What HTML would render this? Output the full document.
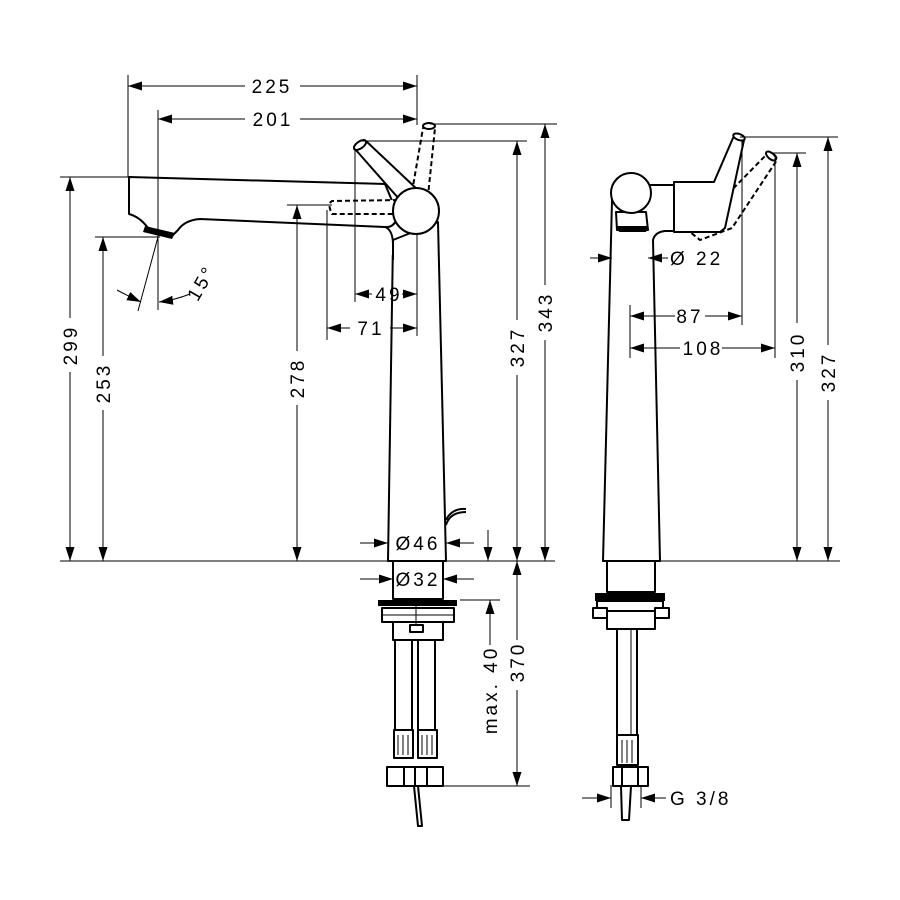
<!DOCTYPE html>
<html><head><meta charset="utf-8"><style>
html,body{margin:0;padding:0;background:#fff}
svg{display:block}
text{font-family:"Liberation Sans",sans-serif;font-size:19px;fill:#000;letter-spacing:3px}
.d{stroke:#000;stroke-width:1;fill:none}
.o{stroke:#000;stroke-width:2;fill:#fff;stroke-linejoin:round}
.n{stroke:#000;stroke-width:2;fill:none}
.da{stroke:#000;stroke-width:2;fill:#fff;stroke-dasharray:5 3}
</style></head><body>
<svg width="900" height="900" viewBox="0 0 900 900" xmlns="http://www.w3.org/2000/svg">
<defs>
<marker id="a" viewBox="0 0 14 9" refX="14" refY="4.5" markerWidth="14" markerHeight="9" markerUnits="userSpaceOnUse" orient="auto-start-reverse"><path d="M0,0L14,4.5L0,9z" fill="#000"/></marker>
</defs>
<rect width="900" height="900" fill="#fff"/>

<!-- ===== LEFT VIEW ===== -->
<line class="d" x1="60" y1="561" x2="555" y2="561"/>
<path class="o" d="M393,240 L388,561 L446,561 L438,222 Z"/>
<path class="o" d="M129,177 L385,184 L398,215 Q395,228 385,227 L200,219 Q185,220 178,230 L172,236 L148,228 Q140,217 129,214 Z"/>
<path class="o" d="M385,227 Q393,230 393,245 L393,260" />
<path d="M145,226 L175,233 L172,239 L143,232 Z" fill="#000"/>
<path class="da" d="M398,200 L332,201 Q327,204 332,214 L398,214"/>
<path class="da" d="M412,192 L423,128 Q428,122 435,128 L428,196"/>
<ellipse cx="429" cy="126" rx="6" ry="3" class="o"/>
<path class="o" d="M400,200 L355,149 Q356,140 366,141 L420,192 Z"/>
<ellipse cx="360" cy="145" rx="7" ry="3.5" transform="rotate(-35 360 145)" class="o"/>
<circle cx="416" cy="211" r="23" class="o"/>
<path class="n" d="M446,525 Q450,512 466,512" />
<path class="n" d="M446,520 Q452,508 466,509" />

<rect x="393" y="561" width="50" height="38" class="o"/>
<rect x="378" y="600" width="79" height="6" fill="#000"/>
<rect x="382" y="608" width="72" height="14" class="o"/>
<line class="d" x1="382" y1="615" x2="454" y2="615"/>
<rect x="393" y="622" width="50" height="18" class="o"/>
<rect x="410" y="625" width="13" height="7" class="o"/>
<line class="d" x1="416" y1="606" x2="416" y2="625"/>
<rect x="395" y="640" width="17" height="92" class="o"/>
<rect x="418" y="640" width="17" height="92" class="o"/>
<rect x="394" y="730" width="19" height="28" class="o"/>
<rect x="418" y="730" width="19" height="28" class="o"/>
<g class="d"><line x1="398" y1="735" x2="398" y2="755"/><line x1="403" y1="735" x2="403" y2="755"/><line x1="408" y1="735" x2="408" y2="755"/><line x1="422" y1="735" x2="422" y2="755"/><line x1="427" y1="735" x2="427" y2="755"/><line x1="432" y1="735" x2="432" y2="755"/></g>
<rect x="387" y="767" width="56" height="19" class="o"/>
<line class="n" x1="404" y1="767" x2="404" y2="786"/><line class="n" x1="415" y1="767" x2="415" y2="786"/><line class="n" x1="427" y1="767" x2="427" y2="786"/>
<path class="o" d="M414,786 L418,786 L422,826 L418,826 Z"/>

<line class="d" x1="128" y1="75" x2="128" y2="177"/>
<line class="d" x1="417" y1="75" x2="417" y2="125"/>
<line class="d" x1="128" y1="86" x2="245" y2="86" marker-start="url(#a)"/>
<line class="d" x1="300" y1="86" x2="417" y2="86" marker-end="url(#a)"/>
<text x="272" y="93" text-anchor="middle">225</text>
<line class="d" x1="158" y1="110" x2="158" y2="310"/>
<line class="d" x1="158" y1="119" x2="245" y2="119" marker-start="url(#a)"/>
<line class="d" x1="300" y1="119" x2="417" y2="119" marker-end="url(#a)"/>
<text x="273" y="126" text-anchor="middle">201</text>
<line class="d" x1="158" y1="237" x2="138" y2="311"/>
<path class="d" d="M117,290 Q128,296 141,302" marker-end="url(#a)"/>
<path class="d" d="M190,294 Q175,300 159,302" marker-end="url(#a)"/>
<text x="207" y="286" transform="rotate(-60 207 286)" text-anchor="middle">15°</text>
<line class="d" x1="60" y1="177" x2="128" y2="177"/>
<line class="d" x1="70" y1="177" x2="70" y2="318" marker-start="url(#a)"/>
<line class="d" x1="70" y1="372" x2="70" y2="561" marker-end="url(#a)"/>
<text transform="translate(77,345) rotate(-90)" text-anchor="middle">299</text>
<line class="d" x1="95" y1="237" x2="160" y2="237"/>
<line class="d" x1="103" y1="237" x2="103" y2="356" marker-start="url(#a)"/>
<line class="d" x1="103" y1="410" x2="103" y2="561" marker-end="url(#a)"/>
<text transform="translate(110,383) rotate(-90)" text-anchor="middle">253</text>
<line class="d" x1="287" y1="205" x2="332" y2="205"/>
<line class="d" x1="297" y1="205" x2="297" y2="351" marker-start="url(#a)"/>
<line class="d" x1="297" y1="405" x2="297" y2="561" marker-end="url(#a)"/>
<text transform="translate(304,378) rotate(-90)" text-anchor="middle">278</text>
<line class="d" x1="355" y1="148" x2="355" y2="302"/>
<line class="d" x1="327" y1="210" x2="327" y2="340"/>
<line class="d" x1="417" y1="234" x2="417" y2="336"/>
<line class="d" x1="355" y1="294" x2="372" y2="294" marker-start="url(#a)"/>
<line class="d" x1="402" y1="294" x2="417" y2="294" marker-end="url(#a)"/>
<text x="389" y="301" text-anchor="middle">49</text>
<line class="d" x1="327" y1="328" x2="350" y2="328" marker-start="url(#a)"/>
<line class="d" x1="390" y1="328" x2="417" y2="328" marker-end="url(#a)"/>
<text x="371" y="335" text-anchor="middle">71</text>
<line class="d" x1="360" y1="141" x2="527" y2="141"/>
<line class="d" x1="430" y1="124" x2="557" y2="124"/>
<line class="d" x1="517" y1="141" x2="517" y2="320" marker-start="url(#a)"/>
<line class="d" x1="517" y1="375" x2="517" y2="561" marker-end="url(#a)"/>
<text transform="translate(524,347) rotate(-90)" text-anchor="middle">327</text>
<line class="d" x1="545" y1="124" x2="545" y2="285" marker-start="url(#a)"/>
<line class="d" x1="545" y1="340" x2="545" y2="561" marker-end="url(#a)"/>
<text transform="translate(552,312) rotate(-90)" text-anchor="middle">343</text>
<line class="d" x1="360" y1="543" x2="388" y2="543" marker-end="url(#a)"/>
<line class="d" x1="474" y1="543" x2="446" y2="543" marker-end="url(#a)"/>
<text x="418" y="550" text-anchor="middle">Ø46</text>
<line class="d" x1="488" y1="530" x2="488" y2="561" marker-end="url(#a)"/>
<line class="d" x1="360" y1="579" x2="393" y2="579" marker-end="url(#a)"/>
<line class="d" x1="474" y1="579" x2="443" y2="579" marker-end="url(#a)"/>
<text x="418" y="586" text-anchor="middle">Ø32</text>
<line class="d" x1="460" y1="600" x2="500" y2="600"/>
<line class="d" x1="490" y1="645" x2="490" y2="600" marker-end="url(#a)"/>
<text transform="translate(497,690) rotate(-90)" text-anchor="middle">max. 40</text>
<line class="d" x1="440" y1="786" x2="530" y2="786"/>
<line class="d" x1="517" y1="640" x2="517" y2="561" marker-end="url(#a)"/>
<line class="d" x1="517" y1="690" x2="517" y2="786" marker-end="url(#a)"/>
<text transform="translate(524,662) rotate(-90)" text-anchor="middle">370</text>

<!-- ===== RIGHT VIEW ===== -->
<line class="d" x1="660" y1="561" x2="840" y2="561"/>
<path class="o" d="M612,200 L603,561 L660,561 L653,240 Q655,232 665,231 L676,231 L676,185 L650,185 Z"/>
<path class="da" d="M722,200 L768,153 Q776,153 777,160 L732,228 L700,240 L690,232"/>
<ellipse cx="771" cy="156" rx="6" ry="3" transform="rotate(40 771 156)" class="o"/>
<path class="o" d="M674,182 L714,182 L733,138 Q740,134 744,140 L725,228 L720,232 L674,232 Z"/>
<ellipse cx="739" cy="137" rx="6" ry="3" transform="rotate(20 739 137)" class="o"/>
<line class="n" x1="674" y1="182" x2="674" y2="232"/>
<path class="o" d="M616,212 L646,212 L648,230 L617,230 Z"/>
<path d="M617,226 L648,226 L646,232 L619,232 Z" fill="#000"/>
<circle cx="631" cy="193" r="20" class="o"/>
<rect x="607" y="561" width="48" height="31" class="o"/>
<rect x="595" y="593" width="70" height="8" fill="#000"/>
<rect x="597" y="601" width="66" height="10" class="o"/>
<rect x="593" y="608" width="14" height="10" class="o"/>
<rect x="655" y="608" width="14" height="10" class="o"/>
<rect x="607" y="611" width="48" height="18" class="o"/>
<rect x="617" y="629" width="20" height="106" class="o"/>
<line class="d" x1="631" y1="629" x2="631" y2="735"/>
<rect x="617" y="735" width="21" height="30" class="o"/>
<g class="d"><line x1="622" y1="740" x2="622" y2="763"/><line x1="627" y1="740" x2="627" y2="763"/><line x1="632" y1="740" x2="632" y2="763"/></g>
<rect x="613" y="767" width="35" height="19" class="o"/>
<line class="n" x1="622" y1="767" x2="622" y2="786"/><line class="n" x1="638" y1="767" x2="638" y2="786"/>
<path class="o" d="M621,786 L631,786 L629,820 L622,820 Z"/>
<line class="d" x1="590" y1="258" x2="612" y2="258" marker-end="url(#a)"/>
<line class="d" x1="668" y1="258" x2="648" y2="258" marker-end="url(#a)"/>
<text x="670" y="265">Ø 22</text>
<line class="d" x1="630" y1="305" x2="630" y2="358"/>
<line class="d" x1="742" y1="140" x2="742" y2="325"/>
<line class="d" x1="775" y1="158" x2="775" y2="358"/>
<line class="d" x1="630" y1="316" x2="675" y2="316" marker-start="url(#a)"/>
<line class="d" x1="705" y1="316" x2="742" y2="316" marker-end="url(#a)"/>
<text x="690" y="323" text-anchor="middle">87</text>
<line class="d" x1="630" y1="348" x2="680" y2="348" marker-start="url(#a)"/>
<line class="d" x1="722" y1="348" x2="775" y2="348" marker-end="url(#a)"/>
<text x="703" y="355" text-anchor="middle">108</text>
<line class="d" x1="770" y1="153" x2="806" y2="153"/>
<line class="d" x1="740" y1="137" x2="838" y2="137"/>
<line class="d" x1="797" y1="153" x2="797" y2="323" marker-start="url(#a)"/>
<line class="d" x1="797" y1="380" x2="797" y2="561" marker-end="url(#a)"/>
<text transform="translate(804,352) rotate(-90)" text-anchor="middle">310</text>
<line class="d" x1="828" y1="137" x2="828" y2="345" marker-start="url(#a)"/>
<line class="d" x1="828" y1="400" x2="828" y2="561" marker-end="url(#a)"/>
<text transform="translate(835,372) rotate(-90)" text-anchor="middle">327</text>
<line class="d" x1="611" y1="785" x2="611" y2="808"/>
<line class="d" x1="641" y1="785" x2="641" y2="808"/>
<line class="d" x1="582" y1="798" x2="611" y2="798" marker-end="url(#a)"/>
<line class="d" x1="666" y1="798" x2="641" y2="798" marker-end="url(#a)"/>
<text x="670" y="805">G 3/8</text>
</svg>
</body></html>
